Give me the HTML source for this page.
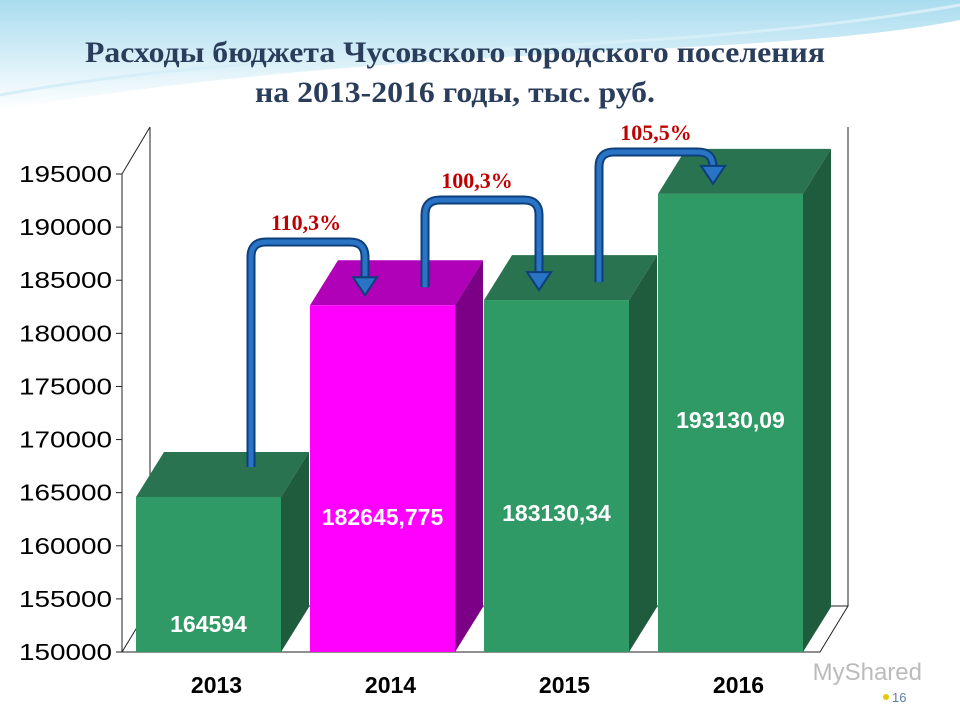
<!DOCTYPE html>
<html><head><meta charset="utf-8"><style>
body{margin:0;width:960px;height:720px;overflow:hidden;background:#fff;font-family:"Liberation Sans",sans-serif}
svg{display:block}
</style></head><body>
<svg id="c" width="960" height="720" xmlns="http://www.w3.org/2000/svg">
<defs>
<linearGradient id="sky" x1="0" y1="0" x2="0" y2="1"><stop offset="0" stop-color="#a9dcef"/><stop offset="1" stop-color="#ffffff"/></linearGradient>
</defs>
<rect width="960" height="720" fill="#fff"/>
<path d="M0 0 H960 V20 C760 60 420 40 0 110 Z" fill="url(#sky)"/>
<path d="M0 95 C300 40 650 60 960 5" stroke="#d6eef7" stroke-width="3" fill="none"/>
<text x="455" y="62" text-anchor="middle" font-family="Liberation Serif,serif" font-weight="bold" font-size="30" fill="#2a3d5a" textLength="740" lengthAdjust="spacingAndGlyphs">Расходы бюджета Чусовского городского поселения</text>
<text x="455" y="102" text-anchor="middle" font-family="Liberation Serif,serif" font-weight="bold" font-size="30" fill="#2a3d5a" textLength="400" lengthAdjust="spacingAndGlyphs">на 2013-2016 годы, тыс. руб.</text>
<g id="plot"></g>
<text x="922" y="680" text-anchor="end" font-size="24" fill="#bbb">MyShared</text>
<circle cx="886" cy="697" r="3" fill="#e8c800"/>
<text x="892" y="702" font-size="13" fill="#5a7fa8">16</text>
</svg>
<script>
const categories=["2013","2014","2015","2016"];
const values=[164594,182645.775,183130.34,193130.09];
const valueLabels=["164594","182645,775","183130,34","193130,09"];
const growthLabels=["110,3%","100,3%","105,5%"];
const ticks=[150000,155000,160000,165000,170000,175000,180000,185000,190000,195000];
const NS="http://www.w3.org/2000/svg";
const g=document.getElementById("plot");
function el(t,a,p){const e=document.createElementNS(NS,t);for(const k in a)e.setAttribute(k,a[k]);(p||g).appendChild(e);return e;}
const y0=652,yTop=174,vmin=150000,vmax=195000;
function y(v){return y0-(v-vmin)/(vmax-vmin)*(y0-yTop);}
function x(i){return 136+i*174;}
const bw=145,dx=28,dy=-45;
let w=el("path",{d:`M150 ${127} V606 H848 V127`,fill:"#fff",stroke:"#222","stroke-width":1});

let fl=el("path",{d:`M122 652 L150 606 H848 L820 652 Z`,fill:"#fff",stroke:"#222","stroke-width":1});

let ax=el("path",{d:`M122 ${yTop} V652 M122 ${yTop} L150 127`,stroke:"#222",fill:"none"});

ticks.forEach(t=>{
 el("line",{x1:116,x2:122,y1:y(t),y2:y(t),stroke:"#222"});
 const tx=el("text",{x:112,y:y(t)+8,"text-anchor":"end","font-size":23,fill:"#000",textLength:93,lengthAdjust:"spacingAndGlyphs"});tx.textContent=t;
 
});
values.forEach((v,i)=>{
 const mag=i===1;
 const front=mag?"#ff00ff":"#2f9a66",top=mag?"#b000b8":"#2a7350",side=mag?"#7c0086":"#1f5b3d";
 const X=x(i),Y=y(v);
 const gb=el("g",{});
 
 el("path",{d:`M${X} ${Y} L${X+dx} ${Y+dy} H${X+bw+dx} L${X+bw} ${Y} Z`,fill:top},gb);
 el("path",{d:`M${X+bw} ${Y} L${X+bw+dx} ${Y+dy} V${y0+dy} L${X+bw} ${y0} Z`,fill:side},gb);
 el("rect",{x:X,y:Y,width:bw,height:y0-Y,fill:front},gb);
 const lbY=[632,525,521,428][i];
 const t=el("text",{x:X+bw/2,y:lbY,"text-anchor":"middle","font-size":23,"font-weight":"bold",fill:"#fff"});
 t.textContent=valueLabels[i];
 const c=el("text",{x:X+bw/2+8,y:693,"text-anchor":"middle","font-size":23,"font-weight":"bold",fill:"#000"});
 c.textContent=categories[i];
});
for(let i=0;i<3;i++){
 const sx=x(i)+115, sy=i===0?y(values[i])-30:y(values[i])-18;
 const ex=x(i+1)+55, ey=y(values[i+1])-12;
 const ty=[242,200,152][i];
 const d=`M${sx} ${sy} V${ty+15} Q${sx} ${ty} ${sx+15} ${ty} H${ex-15} Q${ex} ${ty} ${ex} ${ty+15} V${ey-14}`;
 const ag=el("g",{});
 el("path",{d,stroke:"#0d3f7a","stroke-width":9,fill:"none"},ag);
 el("path",{d,stroke:"#2a74c6","stroke-width":5,fill:"none"},ag);
 el("path",{d:`M${ex-12} ${ey-16} H${ex+12} L${ex} ${ey+2} Z`,fill:"#2a74c6",stroke:"#0d3f7a","stroke-width":2},ag);
 const lt=el("text",{x:(sx+ex)/2+[-2,-5,0][i],y:ty-12,"text-anchor":"middle","font-family":"Liberation Serif,serif","font-weight":"bold","font-size":22,fill:"#c00000"});
 lt.textContent=growthLabels[i];
}
</script>
</body></html>
